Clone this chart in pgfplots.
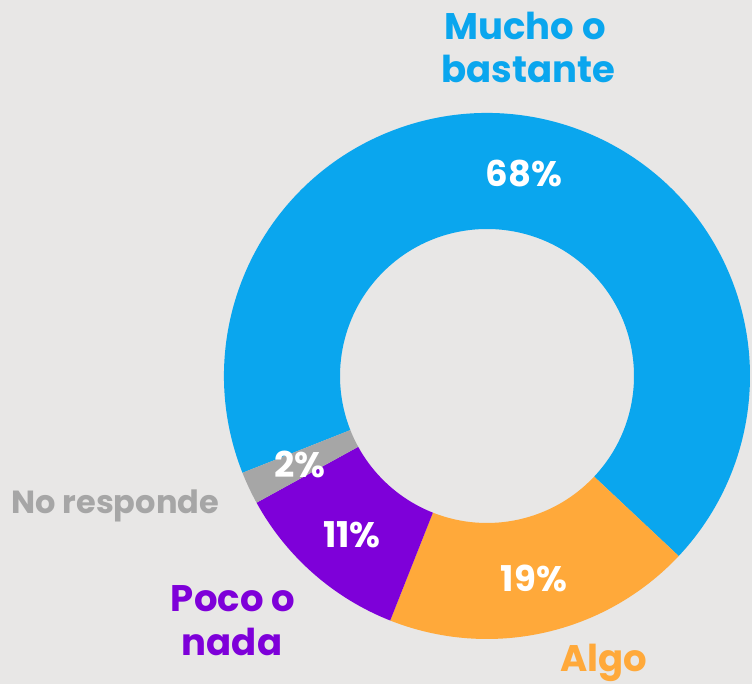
\documentclass[border=0pt]{standalone}
\usepackage{pgfplots}
\pgfplotsset{compat=1.18}
\usepackage{pgfplotstable}
\usepackage{fontspec}
\setmainfont{Poppins}
\usetikzlibrary{calc}
\definecolor{bgc}{HTML}{E8E7E6}
\definecolor{cblue}{HTML}{0AA6EE}
\definecolor{corange}{HTML}{FFA93A}
\definecolor{cpurple}{HTML}{7E00D9}
\definecolor{cgray}{HTML}{A6A6A6}
\pgfplotstableread{
label value col
Mucho 68 cblue
Algo 19 corange
Poco 11 cpurple
NR 2 cgray
}\donut
\begin{document}
\begin{tikzpicture}
\begin{axis}[scale only axis, width=752bp, height=684bp,
  xmin=0, xmax=752, ymin=0, ymax=684, hide axis, clip=false]
\fill[bgc] (axis cs:0,0) rectangle (axis cs:752,684);
\pgfmathsetmacro{\ang}{201.6}
\pgfplotsforeachungrouped \i in {0,...,3}{%
  \pgfplotstablegetelem{\i}{value}\of\donut \let\v\pgfplotsretval
  \pgfplotstablegetelem{\i}{col}\of\donut \let\c\pgfplotsretval
  \pgfmathsetmacro{\angb}{\ang-3.6*\v}%
  \edef\temp{\noexpand\fill[\c, overlay] ($(axis cs:487,308)+(\ang:263bp)$) arc[start angle=\ang, end angle=\angb, radius=263bp] -- ($(axis cs:487,308)+(\angb:147bp)$) arc[start angle=\angb, end angle=\ang, radius=147bp] -- cycle;}%
  \temp
  \let\ang\angb
}
\tikzset{lab/.style={anchor=base, inner sep=0pt, font=\fontsize{37bp}{44bp}\selectfont\bfseries},
         pct/.style={anchor=base, inner sep=0pt, text=white, font=\fontsize{35.5bp}{42bp}\selectfont\bfseries}}
\node[lab, text=cblue] at (axis cs:525,644.7) {Mucho o};
\node[lab, text=cblue] at (axis cs:528,601) {bastante};
\node[lab, text=cpurple] at (axis cs:233,72.3) {Poco o};
\node[lab, text=cpurple] at (axis cs:232,29) {nada};
\node[lab, text=corange, overlay] at (axis cs:604,12.3) {Algo};
\node[anchor=base, inner sep=0pt, text=cgray, font=\fontsize{32bp}{38bp}\selectfont\bfseries] at (axis cs:115.3,170.7) {No responde};
\node[pct] at (axis cs:524,497) {68\%};
\node[pct] at (axis cs:300,206.3) {2\%};
\node[pct] at (axis cs:352,136) {11\%};
\node[pct] at (axis cs:534,92.3) {19\%};
\end{axis}
\end{tikzpicture}
\end{document}
